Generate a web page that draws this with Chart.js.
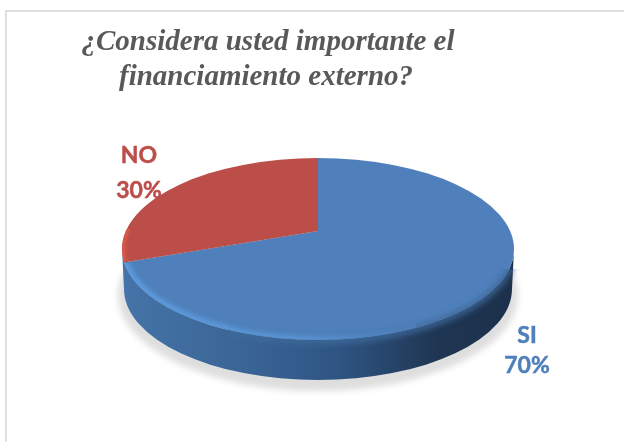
<!DOCTYPE html>
<html lang="es">
<head>
<meta charset="utf-8">
<title>Financiamiento externo</title>
<script src="https://cdn.jsdelivr.net/npm/chart.js@4"></script>
<style>
    html, body { margin: 0; padding: 0; background: #fff; }
    #wrap { position: relative; width: 624px; height: 442px; overflow: hidden; }
    #frame { position: absolute; left: 5px; top: 10px; right: -4px; bottom: -4px;
             border: 2px solid #e0e0e0; }
    canvas { position: absolute; left: 0; top: 0; }
</style>
</head>
<body>
<div id="wrap">
    <div id="frame"></div>
    <canvas id="pieChart" width="624" height="442"></canvas>
</div>
<script>
const TITLE_LINES = ["¿Considera usted importante el", "financiamiento externo?"];
const CATEGORIES = ["SI", "NO"];
const VALUES = [70, 30];
const COLORS = ["#4f80bb", "#bc4e4a"];

// Rim of the 3D disc
const RIM = { x: 318, y: 249, rx: 196, ry: 91 };
const DEPTH = 40;
const TILT = 0.5;

function ellipsePath(ctx, x, y, rx, ry) {
    ctx.beginPath();
    ctx.ellipse(x, y, rx, ry, 0, 0, Math.PI * 2);
}

const discPlugin = {
    id: "disc",
    beforeDatasetsDraw(chart) {
        const ctx = chart.ctx;
        const arc = chart.getDatasetMeta(0).data[0];

        // Ground shadow
        ctx.save();
        ctx.filter = "blur(3px)";
        ctx.fillStyle = "#dedede";
        ellipsePath(ctx, RIM.x, RIM.y + DEPTH + 6, RIM.rx + 4, RIM.ry + 5);
        ctx.fill();
        ctx.restore();

        // Side of the disc
        const side = ctx.createLinearGradient(RIM.x - RIM.rx, 0, RIM.x + RIM.rx, 0);
        side.addColorStop(0, "#4674a8");
        side.addColorStop(0.3, "#3a6596");
        side.addColorStop(0.55, "#2f5584");
        side.addColorStop(0.8, "#1f3653");
        side.addColorStop(1, "#1c304a");
        ctx.save();
        ctx.fillStyle = side;
        ctx.beginPath();
        ctx.ellipse(RIM.x, RIM.y + DEPTH, RIM.rx - 2, RIM.ry, 0, 0, Math.PI);
        ctx.ellipse(RIM.x, RIM.y, RIM.rx, RIM.ry, 0, Math.PI, 0, true);
        ctx.closePath();
        ctx.fill();
        ctx.restore();

        // Slices are drawn oversize and tilted, then cut by the rim
        ctx.save();
        ellipsePath(ctx, RIM.x, RIM.y, RIM.rx, RIM.ry);
        ctx.clip();
        ctx.translate(arc.x, arc.y);
        ctx.scale(1, TILT);
        ctx.translate(-arc.x, -arc.y);
    },
    afterDatasetsDraw(chart) {
        const ctx = chart.ctx;
        ctx.restore();

        // Soft edge between the face and the dark side
        ctx.save();
        ctx.beginPath();
        ctx.rect(RIM.x - 90, RIM.y + 20, RIM.rx + 96, RIM.ry + 20);
        ctx.clip();
        ctx.filter = "blur(3px)";
        ctx.strokeStyle = "#3f6a9b";
        ctx.lineWidth = 6;
        ellipsePath(ctx, RIM.x, RIM.y, RIM.rx, RIM.ry + 1);
        ctx.stroke();
        ctx.restore();

        // Bevel along the front edge
        const bevel = ctx.createLinearGradient(RIM.x - RIM.rx, 0, RIM.x + RIM.rx, 0);
        bevel.addColorStop(0, "#5c9be0");
        bevel.addColorStop(0.45, "#5a94d4");
        bevel.addColorStop(0.7, "#4f80bb");
        bevel.addColorStop(1, "#4f80bb");
        ctx.save();
        ctx.beginPath();
        ctx.rect(RIM.x - RIM.rx - 2, RIM.y + 14, RIM.rx + 100, RIM.ry + 4);
        ctx.clip();
        ellipsePath(ctx, RIM.x, RIM.y, RIM.rx, RIM.ry);
        ctx.clip();
        ctx.filter = "blur(2px)";
        ctx.strokeStyle = bevel;
        ctx.lineWidth = 7;
        ellipsePath(ctx, RIM.x, RIM.y, RIM.rx - 1, RIM.ry - 1);
        ctx.stroke();
        ctx.restore();

        // Same bevel on the red slice
        ctx.save();
        ctx.beginPath();
        ctx.rect(RIM.x - RIM.rx - 2, RIM.y - 20, 14, 32);
        ctx.clip();
        ellipsePath(ctx, RIM.x, RIM.y, RIM.rx, RIM.ry);
        ctx.clip();
        ctx.filter = "blur(1px)";
        ctx.strokeStyle = "#d8564a";
        ctx.lineWidth = 5;
        ellipsePath(ctx, RIM.x, RIM.y, RIM.rx - 1, RIM.ry - 1);
        ctx.stroke();
        ctx.restore();

        // Title
        ctx.save();
        ctx.textAlign = "center";
        ctx.textBaseline = "alphabetic";
        ctx.fillStyle = "#595959";
        ctx.font = "italic bold 29px 'Liberation Serif'";
        ctx.fillText(TITLE_LINES[0], 268, 50);
        ctx.fillText(TITLE_LINES[1], 266, 85);

        // Data labels
        ctx.font = "bold 23px Lato";
        ctx.lineWidth = 0.5;
        ctx.fillStyle = ctx.strokeStyle = COLORS[1];
        ctx.fillText(CATEGORIES[1], 139, 163);
        ctx.strokeText(CATEGORIES[1], 139, 163);
        ctx.fillText(VALUES[1] + "%", 139, 198);
        ctx.strokeText(VALUES[1] + "%", 139, 198);
        ctx.fillStyle = ctx.strokeStyle = COLORS[0];
        ctx.fillText(CATEGORIES[0], 527, 343);
        ctx.strokeText(CATEGORIES[0], 527, 343);
        ctx.fillText(VALUES[0] + "%", 527, 373);
        ctx.strokeText(VALUES[0] + "%", 527, 373);
        ctx.restore();
    },
};

new Chart(document.getElementById("pieChart").getContext("2d"), {
    type: "pie",
    data: {
        labels: CATEGORIES,
        datasets: [
            {
                data: VALUES,
                backgroundColor: COLORS,
                borderWidth: 0,
            },
        ],
    },
    options: {
        responsive: false,
        animation: false,
        radius: 240,
        layout: { padding: { left: 12, top: 20 } },
        plugins: {
            legend: { display: false },
            tooltip: { enabled: false },
        },
    },
    plugins: [discPlugin],
});
</script>
</body>
</html>
